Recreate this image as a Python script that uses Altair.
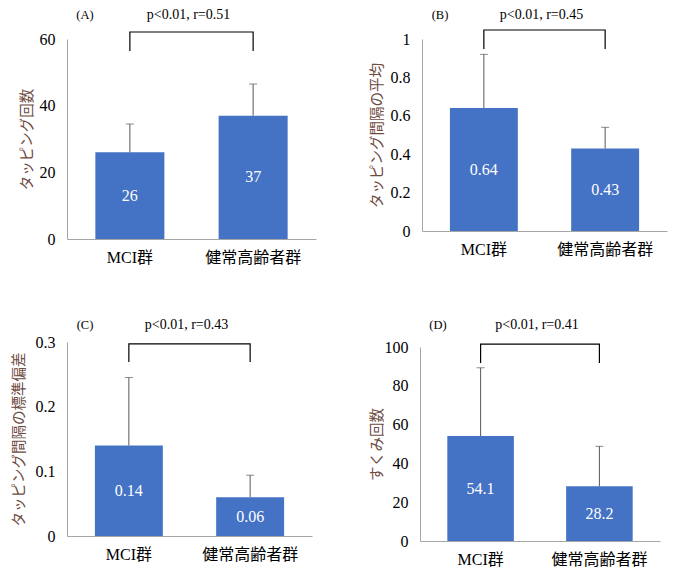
import altair as alt
import pandas as pd

groups = ["MCI群", "健常高齢者群"]

means_a = [26, 37]
sd_a = [8.5, 9.5]
means_b = [0.64, 0.43]
sd_b = [0.28, 0.11]
means_c = [0.14, 0.06]
sd_c = [0.105, 0.034]
means_d = [54.1, 28.2]
sd_d = [35.2, 20.6]

panel_letters = ["(A)", "(B)", "(C)", "(D)"]
p_texts = ["p<0.01, r=0.51", "p<0.01, r=0.45", "p<0.01, r=0.43", "p<0.01, r=0.41"]
y_titles = ["タッピング回数", "タッピング間隔の平均", "タッピング間隔の標準偏差", "すくみ回数"]
y_ticks_a = [0, 20, 40, 60]
y_ticks_b = [0, 0.2, 0.4, 0.6, 0.8, 1]
y_ticks_c = [0, 0.1, 0.2, 0.3]
y_ticks_d = [0, 20, 40, 60, 80, 100]

SERIF = "'Liberation Serif', 'Noto Sans CJK JP', serif"
CJK = "'Noto Sans CJK JP', sans-serif"
BAR = "#4472C4"
ERR = "#595959"
AXIS = "#A6A6A6"
TITLE_COL = "#6e4b3f"


def panel(letter, ptext, ytitle, means, sds, ticks, fmt, width, height,
          br_top, br_end, text_y, title_pad):
    df = pd.DataFrame({"g": groups, "m": means, "sd": sds})
    df["top"] = df["m"] + df["sd"]
    df["mid"] = df["m"] / 2
    dom = [ticks[0], ticks[-1]]
    yscale = alt.Scale(domain=dom, nice=False, zero=True)
    xscale = alt.Scale(domain=groups, paddingInner=0.44, paddingOuter=0.23)
    xaxis = alt.Axis(title=None, labelAngle=0, ticks=False,
                     domainColor=AXIS, labelFont=SERIF,
                     labelFontSize=16, labelColor="#000000",
                     labelPadding=10)
    yaxis = alt.Axis(title=ytitle, values=ticks, format="~r",
                     grid=False, ticks=False, domainColor=AXIS,
                     labelOverlap=False,
                     labelFont=SERIF, labelFontSize=16,
                     labelColor="#000000", labelPadding=12,
                     titleFont=CJK, titleFontSize=14.5,
                     titleFontWeight="normal", titleColor=TITLE_COL,
                     titlePadding=title_pad)
    xn = alt.X("g:N", scale=xscale, sort=groups, axis=xaxis)

    def ye(field):
        return alt.Y(field, scale=yscale, axis=yaxis)

    base = alt.Chart(df)
    bars = base.mark_bar(color=BAR).encode(x=xn, y=ye("m:Q"))
    err = base.mark_rule(color=ERR, strokeWidth=1).encode(
        x=xn, y=ye("m:Q"), y2="top:Q")
    cap = base.mark_tick(color=ERR, thickness=1, size=8).encode(
        x=xn, y=ye("top:Q"))
    lab = base.mark_text(color="white", font=SERIF, fontSize=16,
                         baseline="middle").encode(
        x=xn, y=ye("mid:Q"), text=alt.Text("m:Q", format=fmt))
    br = pd.DataFrame({
        "g": [groups[0], groups[0], groups[1], groups[1]],
        "y": [br_end, br_top, br_top, br_end],
        "o": [0, 1, 2, 3],
    })
    bracket = alt.Chart(br).mark_line(color="#000000", strokeWidth=1.2,
                                      clip=False).encode(
        x=xn, y=ye("y:Q"), order="o:Q")
    ann = pd.DataFrame({"t": [letter, ptext], "k": ["l", "p"]})
    t_letter = alt.Chart(ann).transform_filter("datum.k == 'l'").mark_text(
        font=SERIF, fontSize=12.5, align="center", baseline="middle",
        color="#000000").encode(
        x=alt.value(18), y=alt.value(text_y), text="t:N")
    t_p = alt.Chart(ann).transform_filter("datum.k == 'p'").mark_text(
        font=SERIF, fontSize=14, align="center", baseline="middle",
        color="#000000").encode(
        x=alt.value(width / 2 - 3), y=alt.value(text_y), text="t:N")
    return alt.layer(bars, err, cap, lab, bracket, t_letter, t_p).properties(
        width=width, height=height)


pa = panel(panel_letters[0], p_texts[0], y_titles[0], means_a, sd_a, y_ticks_a,
           ".0f", 249, 200, 62.1, 56.4, -24.5, 5)
pb = panel(panel_letters[1], p_texts[1], y_titles[1], means_b, sd_b, y_ticks_b,
           ".2f", 245, 192, 1.047, 0.948, -24.5, 6)
pc = panel(panel_letters[2], p_texts[2], y_titles[2], means_c, sd_c, y_ticks_c,
           ".2f", 245, 194, 0.297, 0.269, -17, 9)
pd_ = panel(panel_letters[3], p_texts[3], y_titles[3], means_d, sd_d, y_ticks_d,
            ".1f", 240, 194, 101.5, 91.8, -22, 0)

chart = alt.concat(pa, pb, pc, pd_, columns=2, align="none", spacing=53).properties(
    padding={"left": 3, "top": -1, "right": 2, "bottom": 2},
    background="white",
).configure_axis(labelOverlap=False).configure_view(stroke=None)

chart.save("out.html", embed_options={"renderer": "svg", "actions": False})
